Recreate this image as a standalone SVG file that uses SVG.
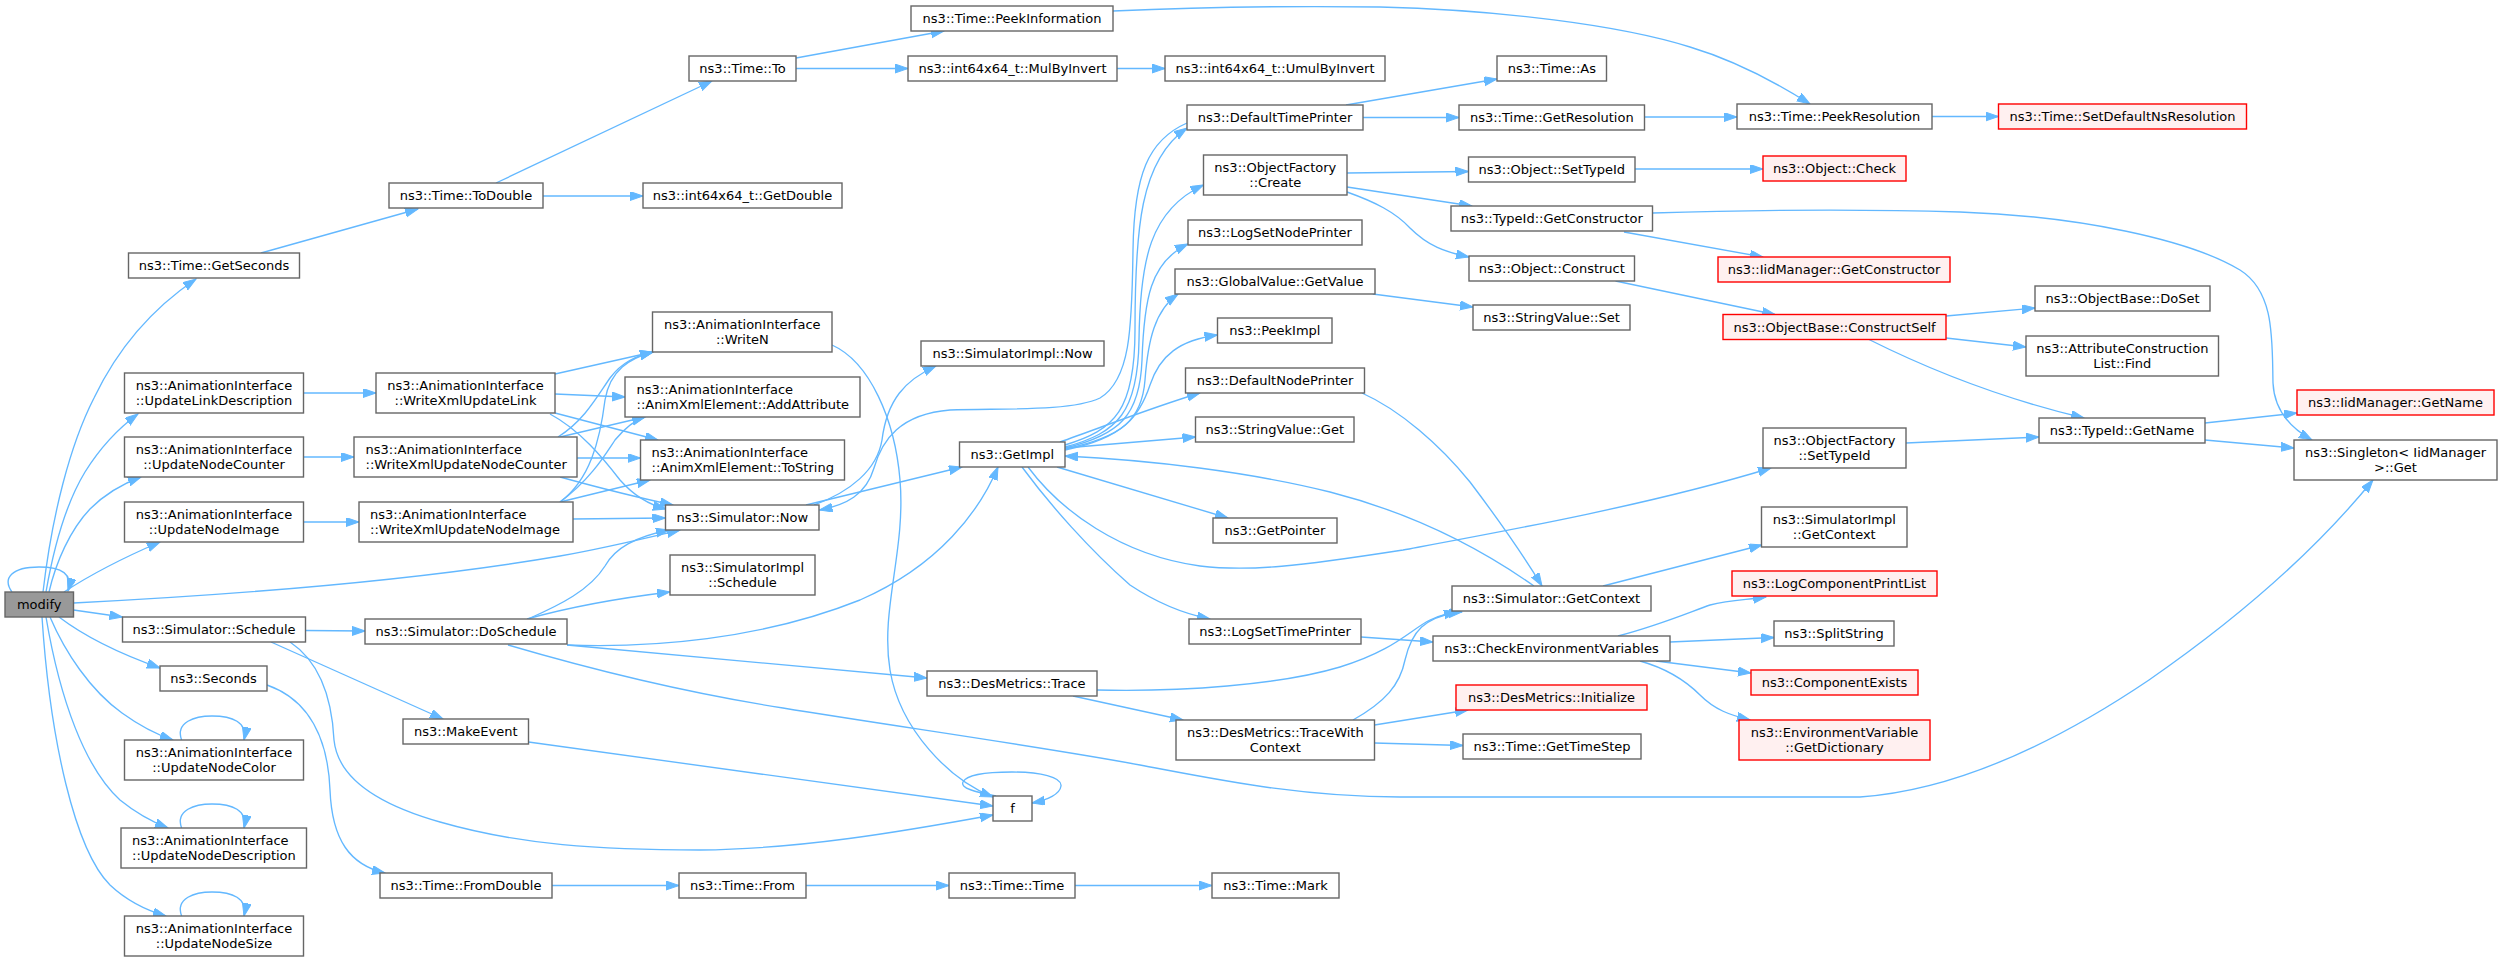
<svg xmlns="http://www.w3.org/2000/svg" width="2503" height="962" viewBox="0 0 2503 962">
<style>
.n rect{fill:#ffffff;stroke:#666666;stroke-width:1.4}
.r rect{fill:#fff0f0;stroke:#ff0000;stroke-width:1.4}
.root rect{fill:#999999;stroke:#666666;stroke-width:1.4}
text{font-family:"DejaVu Sans","Liberation Sans",sans-serif;font-size:13px;fill:#000000;text-anchor:middle}
text.l{text-anchor:start}
#edges path{fill:none;stroke:#63b8ff;stroke-width:1.35;marker-end:url(#ah)}
</style>
<defs>
<marker id="ah" markerUnits="userSpaceOnUse" markerWidth="14" markerHeight="10" viewBox="0 0 14 10" refX="13" refY="4.5" orient="auto"><path d="M0,0 L13,4.5 L0,9 z" fill="#63b8ff" stroke="#63b8ff" stroke-width="1"/></marker>
</defs>
<rect x="0" y="0" width="2503" height="962" fill="#ffffff"/>
<g id="edges">
<path d="M12,592 C2,578 12,567 39,567 C62,567 73,574 68,591"/>
<path d="M43,592 C52,515 70,445 94,398 C116,352 150,310 196,279"/>
<path d="M46,592 C55,540 68,500 85,472 C100,448 116,430 138,414"/>
<path d="M49,592 C56,562 70,530 90,509 C106,493 122,484 141,477"/>
<path d="M64,592 C90,575 125,557 160,542"/>
<path d="M73.5,603 C250,594 420,580 560,556 C610,547 650,537 680,530"/>
<path d="M73.5,610 L122.5,617"/>
<path d="M59,617 C80,633 115,652 160,668"/>
<path d="M50,617 C65,652 90,690 122,713 C140,726 155,734 173,740"/>
<path d="M46,617 C60,700 85,768 120,800 C136,813 150,821 168,828"/>
<path d="M42,617 C50,740 75,850 110,885 C126,900 145,910 166,916"/>
<path d="M181.6,740 C175,722 195,716 212,716 C232,716 248,722 244,740"/>
<path d="M181.6,828 C175,810 195,804 212,804 C232,804 248,810 244,828"/>
<path d="M181.6,916 C175,898 195,892 212,892 C232,892 248,898 244,916"/>
<path d="M303.5,393 L376,393"/>
<path d="M303.5,457 L354,457"/>
<path d="M303.5,522 L359,522"/>
<path d="M555,374 L653,352"/>
<path d="M555,394 L625,397"/>
<path d="M555,413 L658,440"/>
<path d="M550,414 C580,430 603,458 620,480 C635,497 650,505 666,509"/>
<path d="M558,437 C585,420 598,395 610,378 C622,362 636,356 653,352"/>
<path d="M560,437 L645,417"/>
<path d="M577,458 L640.5,458"/>
<path d="M560,477 C600,488 640,498 673,505"/>
<path d="M560,502 C590,480 600,440 605,400 C610,370 630,358 653,352"/>
<path d="M560,502 C590,480 605,455 615,440 C625,428 635,420 645,417"/>
<path d="M560,502 L650,480"/>
<path d="M573,519 L665.5,518"/>
<path d="M832,345 C870,362 895,420 900,480 C906,550 880,610 890,670 C900,730 950,780 993,797"/>
<path d="M806,505 L962,467"/>
<path d="M814,505 C850,492 877,470 882,440 C887,400 905,380 936,366"/>
<path d="M1187,123 C1148,140 1134,175 1133,250 C1132,330 1130,380 1100,398 C1070,412 1000,408 950,410 C900,414 882,440 874,468 C866,495 846,505 819.5,510"/>
<path d="M528,619 C560,605 590,590 605,566 C615,548 635,537 669,530"/>
<path d="M527,619 C570,607 620,598 670,592"/>
<path d="M567,645 C650,648 760,640 860,600 C940,565 980,510 998,467"/>
<path d="M567,645 L927,678"/>
<path d="M508,645 C600,672 700,695 783,708 C900,727 1050,748 1140,765 C1220,780 1300,797 1400,797 L1860,797 C1960,790 2060,740 2149,680 C2250,610 2320,545 2373,480"/>
<path d="M305.5,630.5 L365,631"/>
<path d="M271,642 L443,719"/>
<path d="M290,642 C320,662 332,700 334,740 C338,780 380,805 440,822 C520,845 600,850 700,850 C800,849 900,832 993,815"/>
<path d="M528.5,742 L993,806"/>
<path d="M267,685 C310,700 328,740 330,790 C332,840 350,865 385,873"/>
<path d="M552,885.5 L679,885.5"/>
<path d="M806,885.5 L949,885.5"/>
<path d="M1075,885.5 L1212,885.5"/>
<path d="M996,796 C975,792 960,788 963,782 C967,774 990,772 1012,772 C1040,772 1062,777 1061,786 C1060,794 1048,800 1032,803"/>
<path d="M261,253 L418,209"/>
<path d="M496,183 L712,81"/>
<path d="M543,196 L643,196"/>
<path d="M796,58 L944,31"/>
<path d="M796,68.5 L908,68.5"/>
<path d="M1117,68.5 L1165,68.5"/>
<path d="M1113,11 C1200,7 1300,6 1380,7 C1500,10 1620,25 1690,47 C1740,62 1780,85 1810,104"/>
<path d="M1346,105 L1497,79"/>
<path d="M1363,117.5 L1459,117.5"/>
<path d="M1644.5,117 L1737,117"/>
<path d="M1932,116.5 L1998.5,116.5"/>
<path d="M1347,173 L1468.5,171.5"/>
<path d="M1347,187 L1472,206"/>
<path d="M1347,192 C1375,202 1395,212 1410,228 C1428,246 1445,252 1469,257"/>
<path d="M1635,169 L1763,169"/>
<path d="M1624,232 L1763,257"/>
<path d="M1652.5,213 C1750,210 1860,209 1960,212 C2080,216 2190,240 2240,270 C2275,292 2272,340 2273,383 C2274,405 2285,425 2312,440"/>
<path d="M1615.5,281 L1775,314.5"/>
<path d="M1372.7,294 L1473,307"/>
<path d="M1946,316 L2035,308"/>
<path d="M1946,338 L2026,347"/>
<path d="M1869,339.5 C1930,370 2000,398 2084,418"/>
<path d="M1906,443 L2039,437"/>
<path d="M2205,423 L2297,413"/>
<path d="M2205,440 L2294,448"/>
<path d="M1065,445 C1115,430 1135,410 1135,330 C1135,230 1140,160 1187,128"/>
<path d="M1065,447 C1118,433 1138,412 1139,340 C1140,260 1150,210 1203.5,185"/>
<path d="M1065,448 C1120,435 1140,415 1142,360 C1144,300 1150,262 1188,244"/>
<path d="M1065,449 C1122,437 1142,420 1145,380 C1148,340 1155,310 1178,294"/>
<path d="M1065,450 C1125,438 1140,415 1150,385 C1160,355 1180,340 1217.5,335"/>
<path d="M1060,442 C1100,428 1150,408 1200,393"/>
<path d="M1065,448 L1195.5,437"/>
<path d="M1057,467 L1228,518"/>
<path d="M1022,467 C1050,505 1090,550 1130,585 C1160,605 1185,614 1210,619"/>
<path d="M1028,467 C1060,510 1120,555 1200,566 C1250,572 1300,566 1403,550 C1500,532 1650,505 1771,468"/>
<path d="M1534,586 C1490,555 1420,515 1330,492 C1250,472 1150,460 1065,456"/>
<path d="M1362,393 C1400,410 1440,445 1470,482 C1495,515 1520,550 1542,586"/>
<path d="M1097,690 C1180,692 1280,685 1340,667 C1395,650 1410,630 1430,620 C1440,615 1450,613 1462,612"/>
<path d="M1353,720 C1385,702 1400,685 1405,660 C1412,630 1425,618 1457,612"/>
<path d="M1361,637 L1433,642"/>
<path d="M1603,586 L1762,545"/>
<path d="M1618,636 C1660,625 1690,612 1710,605 C1730,600 1745,600 1766,597"/>
<path d="M1670,642 L1774,637.5"/>
<path d="M1656,661 L1751,673"/>
<path d="M1640,661 C1665,668 1685,680 1700,695 C1715,710 1730,715 1750,720"/>
<path d="M1374.5,725 L1468,710"/>
<path d="M1374.5,743 L1463,745.5"/>
<path d="M1073,696 L1183,720"/>
</g>
<g id="n_modify" class="root"><rect x="5" y="592" width="68.5" height="25"/><text x="39.2" y="609">modify</text></g>
<g id="n_getseconds" class="n"><rect x="128.5" y="253" width="171" height="25"/><text x="214" y="270">ns3::Time::GetSeconds</text></g>
<g id="n_updlinkdesc" class="n"><rect x="124.5" y="373" width="179" height="40"/><text x="214" y="390.2">ns3::AnimationInterface</text><text x="214" y="404.8">::UpdateLinkDescription</text></g>
<g id="n_wxlink" class="n"><rect x="376" y="373" width="179" height="40"/><text x="465.5" y="390.2">ns3::AnimationInterface</text><text x="465.5" y="404.8">::WriteXmlUpdateLink</text></g>
<g id="n_updnodecounter" class="n"><rect x="124.5" y="437" width="179" height="40"/><text x="214" y="454.2">ns3::AnimationInterface</text><text x="214" y="468.8">::UpdateNodeCounter</text></g>
<g id="n_wxcounter" class="n"><rect x="354" y="437" width="223" height="40"/><text class="l" x="365.5" y="454.2">ns3::AnimationInterface</text><text class="l" x="365.5" y="468.8">::WriteXmlUpdateNodeCounter</text></g>
<g id="n_updnodeimage" class="n"><rect x="124.5" y="502" width="179" height="40"/><text x="214" y="519.2">ns3::AnimationInterface</text><text x="214" y="533.8">::UpdateNodeImage</text></g>
<g id="n_wximage" class="n"><rect x="359" y="502" width="214" height="40"/><text class="l" x="370" y="519.2">ns3::AnimationInterface</text><text class="l" x="370" y="533.8">::WriteXmlUpdateNodeImage</text></g>
<g id="n_schedule" class="n"><rect x="122.5" y="617" width="183" height="25"/><text x="214" y="634">ns3::Simulator::Schedule</text></g>
<g id="n_doschedule" class="n"><rect x="365" y="619" width="202" height="25"/><text x="466" y="636">ns3::Simulator::DoSchedule</text></g>
<g id="n_seconds" class="n"><rect x="160" y="666" width="107" height="25"/><text x="213.5" y="683">ns3::Seconds</text></g>
<g id="n_makeevent" class="n"><rect x="403" y="719" width="125.5" height="25"/><text x="465.8" y="736">ns3::MakeEvent</text></g>
<g id="n_updnodecolor" class="n"><rect x="124.5" y="740" width="179" height="40"/><text x="214" y="757.2">ns3::AnimationInterface</text><text x="214" y="771.8">::UpdateNodeColor</text></g>
<g id="n_updnodedesc" class="n"><rect x="121" y="828" width="185.5" height="40"/><text class="l" x="132" y="845.2">ns3::AnimationInterface</text><text class="l" x="132" y="859.8">::UpdateNodeDescription</text></g>
<g id="n_fromdouble" class="n"><rect x="380" y="873" width="172" height="25"/><text x="466" y="890">ns3::Time::FromDouble</text></g>
<g id="n_updnodesize" class="n"><rect x="124.5" y="916" width="179" height="40"/><text x="214" y="933.2">ns3::AnimationInterface</text><text x="214" y="947.8">::UpdateNodeSize</text></g>
<g id="n_todouble" class="n"><rect x="389" y="183" width="154" height="25"/><text x="466" y="200">ns3::Time::ToDouble</text></g>
<g id="n_to" class="n"><rect x="689" y="56" width="107" height="25"/><text x="742.5" y="73">ns3::Time::To</text></g>
<g id="n_getdouble" class="n"><rect x="643" y="183" width="199" height="25"/><text x="742.5" y="200">ns3::int64x64_t::GetDouble</text></g>
<g id="n_writen" class="n"><rect x="652.5" y="312" width="179.5" height="40"/><text x="742.3" y="329.2">ns3::AnimationInterface</text><text x="742.3" y="343.8">::WriteN</text></g>
<g id="n_addattr" class="n"><rect x="625" y="377" width="235" height="40"/><text class="l" x="636.5" y="394.2">ns3::AnimationInterface</text><text class="l" x="636.5" y="408.8">::AnimXmlElement::AddAttribute</text></g>
<g id="n_tostring" class="n"><rect x="640.5" y="440" width="204" height="40"/><text class="l" x="651.5" y="457.2">ns3::AnimationInterface</text><text class="l" x="651.5" y="471.8">::AnimXmlElement::ToString</text></g>
<g id="n_now" class="n"><rect x="665.5" y="505" width="153.5" height="25"/><text x="742.3" y="522">ns3::Simulator::Now</text></g>
<g id="n_simimplsched" class="n"><rect x="670" y="555" width="145" height="40"/><text x="742.5" y="572.2">ns3::SimulatorImpl</text><text x="742.5" y="586.8">::Schedule</text></g>
<g id="n_from" class="n"><rect x="679" y="873" width="127" height="25"/><text x="742.5" y="890">ns3::Time::From</text></g>
<g id="n_peekinfo" class="n"><rect x="911" y="6" width="202" height="25"/><text x="1012" y="23">ns3::Time::PeekInformation</text></g>
<g id="n_mulbyinv" class="n"><rect x="908" y="56" width="209" height="25"/><text x="1012.5" y="73">ns3::int64x64_t::MulByInvert</text></g>
<g id="n_simimplnow" class="n"><rect x="921" y="341" width="183" height="25"/><text x="1012.5" y="358">ns3::SimulatorImpl::Now</text></g>
<g id="n_getimpl" class="n"><rect x="959.5" y="442" width="105.5" height="25"/><text x="1012.3" y="459">ns3::GetImpl</text></g>
<g id="n_trace" class="n"><rect x="927" y="671" width="170" height="25"/><text x="1012" y="688">ns3::DesMetrics::Trace</text></g>
<g id="n_f" class="n"><rect x="993" y="796" width="39" height="25"/><text x="1012.5" y="813">f</text></g>
<g id="n_time" class="n"><rect x="949" y="873" width="126" height="25"/><text x="1012" y="890">ns3::Time::Time</text></g>
<g id="n_umul" class="n"><rect x="1165" y="56" width="220" height="25"/><text x="1275" y="73">ns3::int64x64_t::UmulByInvert</text></g>
<g id="n_dtp" class="n"><rect x="1187" y="105" width="176" height="25"/><text x="1275" y="122">ns3::DefaultTimePrinter</text></g>
<g id="n_create" class="n"><rect x="1203.5" y="155" width="143.5" height="40"/><text x="1275.3" y="172.2">ns3::ObjectFactory</text><text x="1275.3" y="186.8">::Create</text></g>
<g id="n_logsetnode" class="n"><rect x="1188" y="220" width="174" height="25"/><text x="1275" y="237">ns3::LogSetNodePrinter</text></g>
<g id="n_gvgetvalue" class="n"><rect x="1175" y="269" width="200" height="25"/><text x="1275" y="286">ns3::GlobalValue::GetValue</text></g>
<g id="n_peekimpl" class="n"><rect x="1217.5" y="318" width="114.5" height="25"/><text x="1274.8" y="335">ns3::PeekImpl</text></g>
<g id="n_dnp" class="n"><rect x="1185.5" y="368" width="179" height="25"/><text x="1275" y="385">ns3::DefaultNodePrinter</text></g>
<g id="n_svget" class="n"><rect x="1195.5" y="417" width="158.5" height="25"/><text x="1274.8" y="434">ns3::StringValue::Get</text></g>
<g id="n_getpointer" class="n"><rect x="1213" y="518" width="124" height="25"/><text x="1275" y="535">ns3::GetPointer</text></g>
<g id="n_logsettime" class="n"><rect x="1189" y="619" width="172" height="25"/><text x="1275" y="636">ns3::LogSetTimePrinter</text></g>
<g id="n_tracewith" class="n"><rect x="1176" y="720" width="198.5" height="40"/><text x="1275.3" y="737.2">ns3::DesMetrics::TraceWith</text><text x="1275.3" y="751.8">Context</text></g>
<g id="n_mark" class="n"><rect x="1212" y="873" width="127" height="25"/><text x="1275.5" y="890">ns3::Time::Mark</text></g>
<g id="n_as" class="n"><rect x="1497" y="56" width="109.5" height="25"/><text x="1551.8" y="73">ns3::Time::As</text></g>
<g id="n_getres" class="n"><rect x="1459" y="105" width="185.5" height="25"/><text x="1551.8" y="122">ns3::Time::GetResolution</text></g>
<g id="n_objsettypeid" class="n"><rect x="1468.5" y="157" width="166.5" height="25"/><text x="1551.8" y="174">ns3::Object::SetTypeId</text></g>
<g id="n_getctor" class="n"><rect x="1451" y="206" width="201.5" height="25"/><text x="1551.8" y="223">ns3::TypeId::GetConstructor</text></g>
<g id="n_construct" class="n"><rect x="1469" y="256" width="165.5" height="25"/><text x="1551.8" y="273">ns3::Object::Construct</text></g>
<g id="n_svset" class="n"><rect x="1473" y="305" width="157" height="25"/><text x="1551.5" y="322">ns3::StringValue::Set</text></g>
<g id="n_simgetctx" class="n"><rect x="1452" y="586" width="199" height="25"/><text x="1551.5" y="603">ns3::Simulator::GetContext</text></g>
<g id="n_checkenv" class="n"><rect x="1433" y="636" width="237" height="25"/><text x="1551.5" y="653">ns3::CheckEnvironmentVariables</text></g>
<g id="n_dminit" class="r"><rect x="1456" y="685" width="191" height="25"/><text x="1551.5" y="702">ns3::DesMetrics::Initialize</text></g>
<g id="n_gettimestep" class="n"><rect x="1463" y="734" width="178" height="25"/><text x="1552" y="751">ns3::Time::GetTimeStep</text></g>
<g id="n_peekres" class="n"><rect x="1737" y="104" width="195" height="25"/><text x="1834.5" y="121">ns3::Time::PeekResolution</text></g>
<g id="n_check" class="r"><rect x="1763" y="156" width="143" height="25"/><text x="1834.5" y="173">ns3::Object::Check</text></g>
<g id="n_iidgetctor" class="r"><rect x="1718" y="257" width="232" height="25"/><text x="1834" y="274">ns3::IidManager::GetConstructor</text></g>
<g id="n_ctorself" class="r"><rect x="1723" y="314.5" width="223" height="25"/><text x="1834.5" y="331.5">ns3::ObjectBase::ConstructSelf</text></g>
<g id="n_ofsettypeid" class="n"><rect x="1763" y="428" width="143" height="40"/><text x="1834.5" y="445.2">ns3::ObjectFactory</text><text x="1834.5" y="459.8">::SetTypeId</text></g>
<g id="n_simimplgetctx" class="n"><rect x="1761.5" y="507" width="145.5" height="40"/><text x="1834.3" y="524.2">ns3::SimulatorImpl</text><text x="1834.3" y="538.8">::GetContext</text></g>
<g id="n_logcomp" class="r"><rect x="1732" y="571" width="205" height="25"/><text x="1834.5" y="588">ns3::LogComponentPrintList</text></g>
<g id="n_split" class="n"><rect x="1774" y="621" width="120" height="25"/><text x="1834" y="638">ns3::SplitString</text></g>
<g id="n_compexists" class="r"><rect x="1751" y="670" width="167" height="25"/><text x="1834.5" y="687">ns3::ComponentExists</text></g>
<g id="n_getdict" class="r"><rect x="1739" y="720" width="191" height="40"/><text x="1834.5" y="737.2">ns3::EnvironmentVariable</text><text x="1834.5" y="751.8">::GetDictionary</text></g>
<g id="n_setdefns" class="r"><rect x="1998.5" y="104" width="248" height="25"/><text x="2122.5" y="121">ns3::Time::SetDefaultNsResolution</text></g>
<g id="n_doset" class="n"><rect x="2035" y="286" width="175" height="25"/><text x="2122.5" y="303">ns3::ObjectBase::DoSet</text></g>
<g id="n_attrfind" class="n"><rect x="2026" y="336" width="192.5" height="40"/><text x="2122.3" y="353.2">ns3::AttributeConstruction</text><text x="2122.3" y="367.8">List::Find</text></g>
<g id="n_getname" class="n"><rect x="2039" y="418" width="166" height="25"/><text x="2122" y="435">ns3::TypeId::GetName</text></g>
<g id="n_iidgetname" class="r"><rect x="2297" y="390" width="197" height="25"/><text x="2395.5" y="407">ns3::IidManager::GetName</text></g>
<g id="n_singleton" class="n"><rect x="2294" y="440" width="203" height="40"/><text x="2395.5" y="457.2">ns3::Singleton&lt; IidManager</text><text x="2395.5" y="471.8">&gt;::Get</text></g>
</svg>
